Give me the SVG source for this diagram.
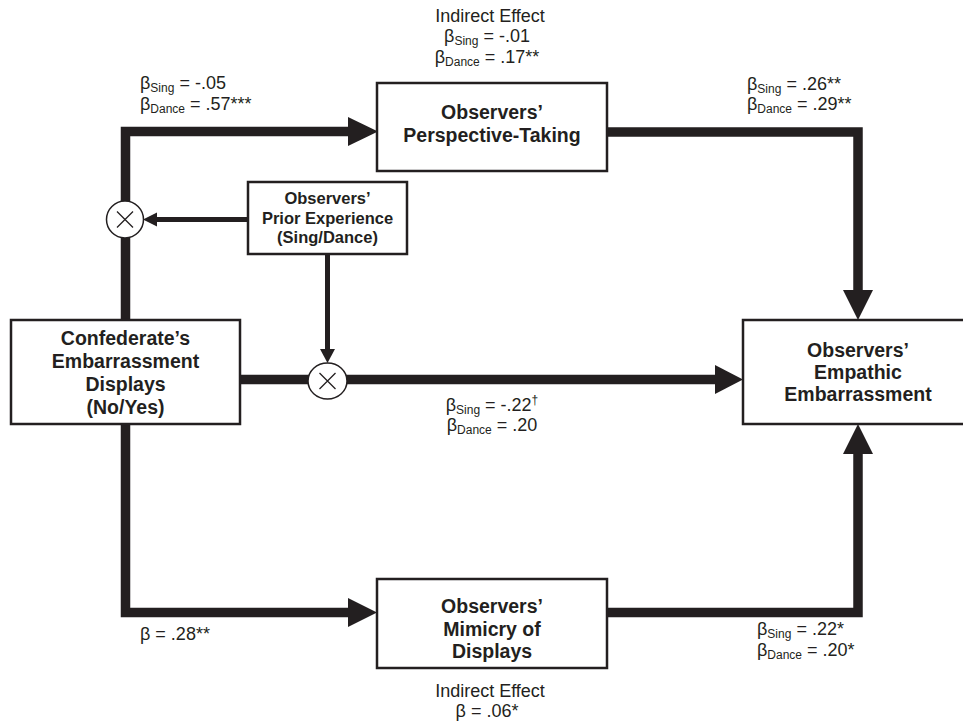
<svg xmlns="http://www.w3.org/2000/svg" width="963" height="721" viewBox="0 0 963 721">
<style>
.box{fill:#fff;stroke:#231f20;stroke-width:2.5}
.bt{font-family:"Liberation Sans",Arial,sans-serif;font-weight:bold;font-size:19.5px;fill:#231f20;text-anchor:middle}
.pt{font-size:16.5px}
.lb{font-family:"Liberation Sans",Arial,sans-serif;font-size:18px;fill:#231f20}
.mid{text-anchor:middle}
.sub{font-size:12px}
.thick{fill:none;stroke:#231f20;stroke-width:9.5;stroke-linejoin:miter}
.thin{fill:none;stroke:#231f20;stroke-width:5}
.head{fill:#231f20}
.circ{fill:#fff;stroke:#231f20;stroke-width:1.5}
.x{stroke:#231f20;stroke-width:1.3}
</style>
<g id="connectors">
<path class="thick" d="M125.5,320 V131.5 H350"/>
<polygon class="head" points="348,117 378,131.5 348,146"/>
<path class="thick" d="M607,132 H858 V292"/>
<polygon class="head" points="843,290 873,290 858,320"/>
<path class="thick" d="M240,379.5 H717"/>
<polygon class="head" points="715,365 743,379.5 715,394"/>
<path class="thick" d="M125.5,424 V612.5 H350"/>
<polygon class="head" points="348,598 377,612.5 348,627"/>
<path class="thick" d="M607,612.5 H858 V452"/>
<polygon class="head" points="843,454 873,454 858,424"/>
<path class="thin" d="M248,219.5 H156"/>
<polygon class="head" points="157,212.5 143,219.5 157,226.5"/>
<path class="thin" d="M327.5,254 V350"/>
<polygon class="head" points="320,349 335,349 327.5,363"/>
<g id="mod1">
<circle class="circ" cx="125" cy="219.5" r="18.5"/>
<path class="x" d="M117,211.5 L133,227.5 M133,211.5 L117,227.5"/>
</g>
<g id="mod2">
<ellipse class="circ" cx="327.5" cy="381" rx="19.5" ry="18"/>
<path class="x" d="M319.5,373 L335.5,389 M335.5,373 L319.5,389"/>
</g>
</g>
<g id="perspective">
<rect class="box" x="377" y="83" width="230" height="88"/>
<text class="bt" x="492" y="119">Observers’</text>
<text class="bt" x="492" y="141.5">Perspective-Taking</text>
</g>
<g id="prior">
<rect class="box" x="248" y="182" width="159" height="72"/>
<text class="bt pt" x="327.5" y="204">Observers’</text>
<text class="bt pt" x="327.5" y="223.5">Prior Experience</text>
<text class="bt pt" x="327.5" y="243">(Sing/Dance)</text>
</g>
<g id="confederate">
<rect class="box" x="11" y="320" width="229" height="104"/>
<text class="bt" x="125.5" y="345">Confederate’s</text>
<text class="bt" x="125.5" y="368">Embarrassment</text>
<text class="bt" x="125.5" y="391">Displays</text>
<text class="bt" x="125.5" y="414">(No/Yes)</text>
</g>
<g id="empathic">
<rect class="box" x="743" y="320" width="230" height="104"/>
<text class="bt" x="858" y="356.5">Observers’</text>
<text class="bt" x="858" y="378.5">Empathic</text>
<text class="bt" x="858" y="400.5">Embarrassment</text>
</g>
<g id="mimicry">
<rect class="box" x="377" y="579" width="230" height="89"/>
<text class="bt" x="492" y="613">Observers’</text>
<text class="bt" x="492" y="635.5">Mimicry of</text>
<text class="bt" x="492" y="658">Displays</text>
</g>
<g id="labels">
<text class="lb mid" x="490" y="22">Indirect Effect</text>
<text class="lb mid" x="487" y="42">β<tspan class="sub" dy="3">Sing</tspan><tspan dy="-3"> = -.01</tspan></text>
<text class="lb mid" x="487" y="63">β<tspan class="sub" dy="3">Dance</tspan><tspan dy="-3"> = .17**</tspan></text>
<text class="lb" x="140" y="89">β<tspan class="sub" dy="3">Sing</tspan><tspan dy="-3"> = -.05</tspan></text>
<text class="lb" x="140" y="110">β<tspan class="sub" dy="3">Dance</tspan><tspan dy="-3"> = .57***</tspan></text>
<text class="lb" x="747" y="90">β<tspan class="sub" dy="3">Sing</tspan><tspan dy="-3"> = .26**</tspan></text>
<text class="lb" x="747" y="110">β<tspan class="sub" dy="3">Dance</tspan><tspan dy="-3"> = .29**</tspan></text>
<text class="lb mid" x="492" y="411">β<tspan class="sub" dy="3">Sing</tspan><tspan dy="-3"> = -.22</tspan><tspan class="sub" dy="-7">†</tspan></text>
<text class="lb mid" x="492" y="431">β<tspan class="sub" dy="3">Dance</tspan><tspan dy="-3"> = .20</tspan></text>
<text class="lb" x="140" y="640">β = .28**</text>
<text class="lb" x="757" y="635">β<tspan class="sub" dy="3">Sing</tspan><tspan dy="-3"> = .22*</tspan></text>
<text class="lb" x="757" y="656">β<tspan class="sub" dy="3">Dance</tspan><tspan dy="-3"> = .20*</tspan></text>
<text class="lb mid" x="490" y="697">Indirect Effect</text>
<text class="lb mid" x="487" y="717">β = .06*</text>
</g>
</svg>
